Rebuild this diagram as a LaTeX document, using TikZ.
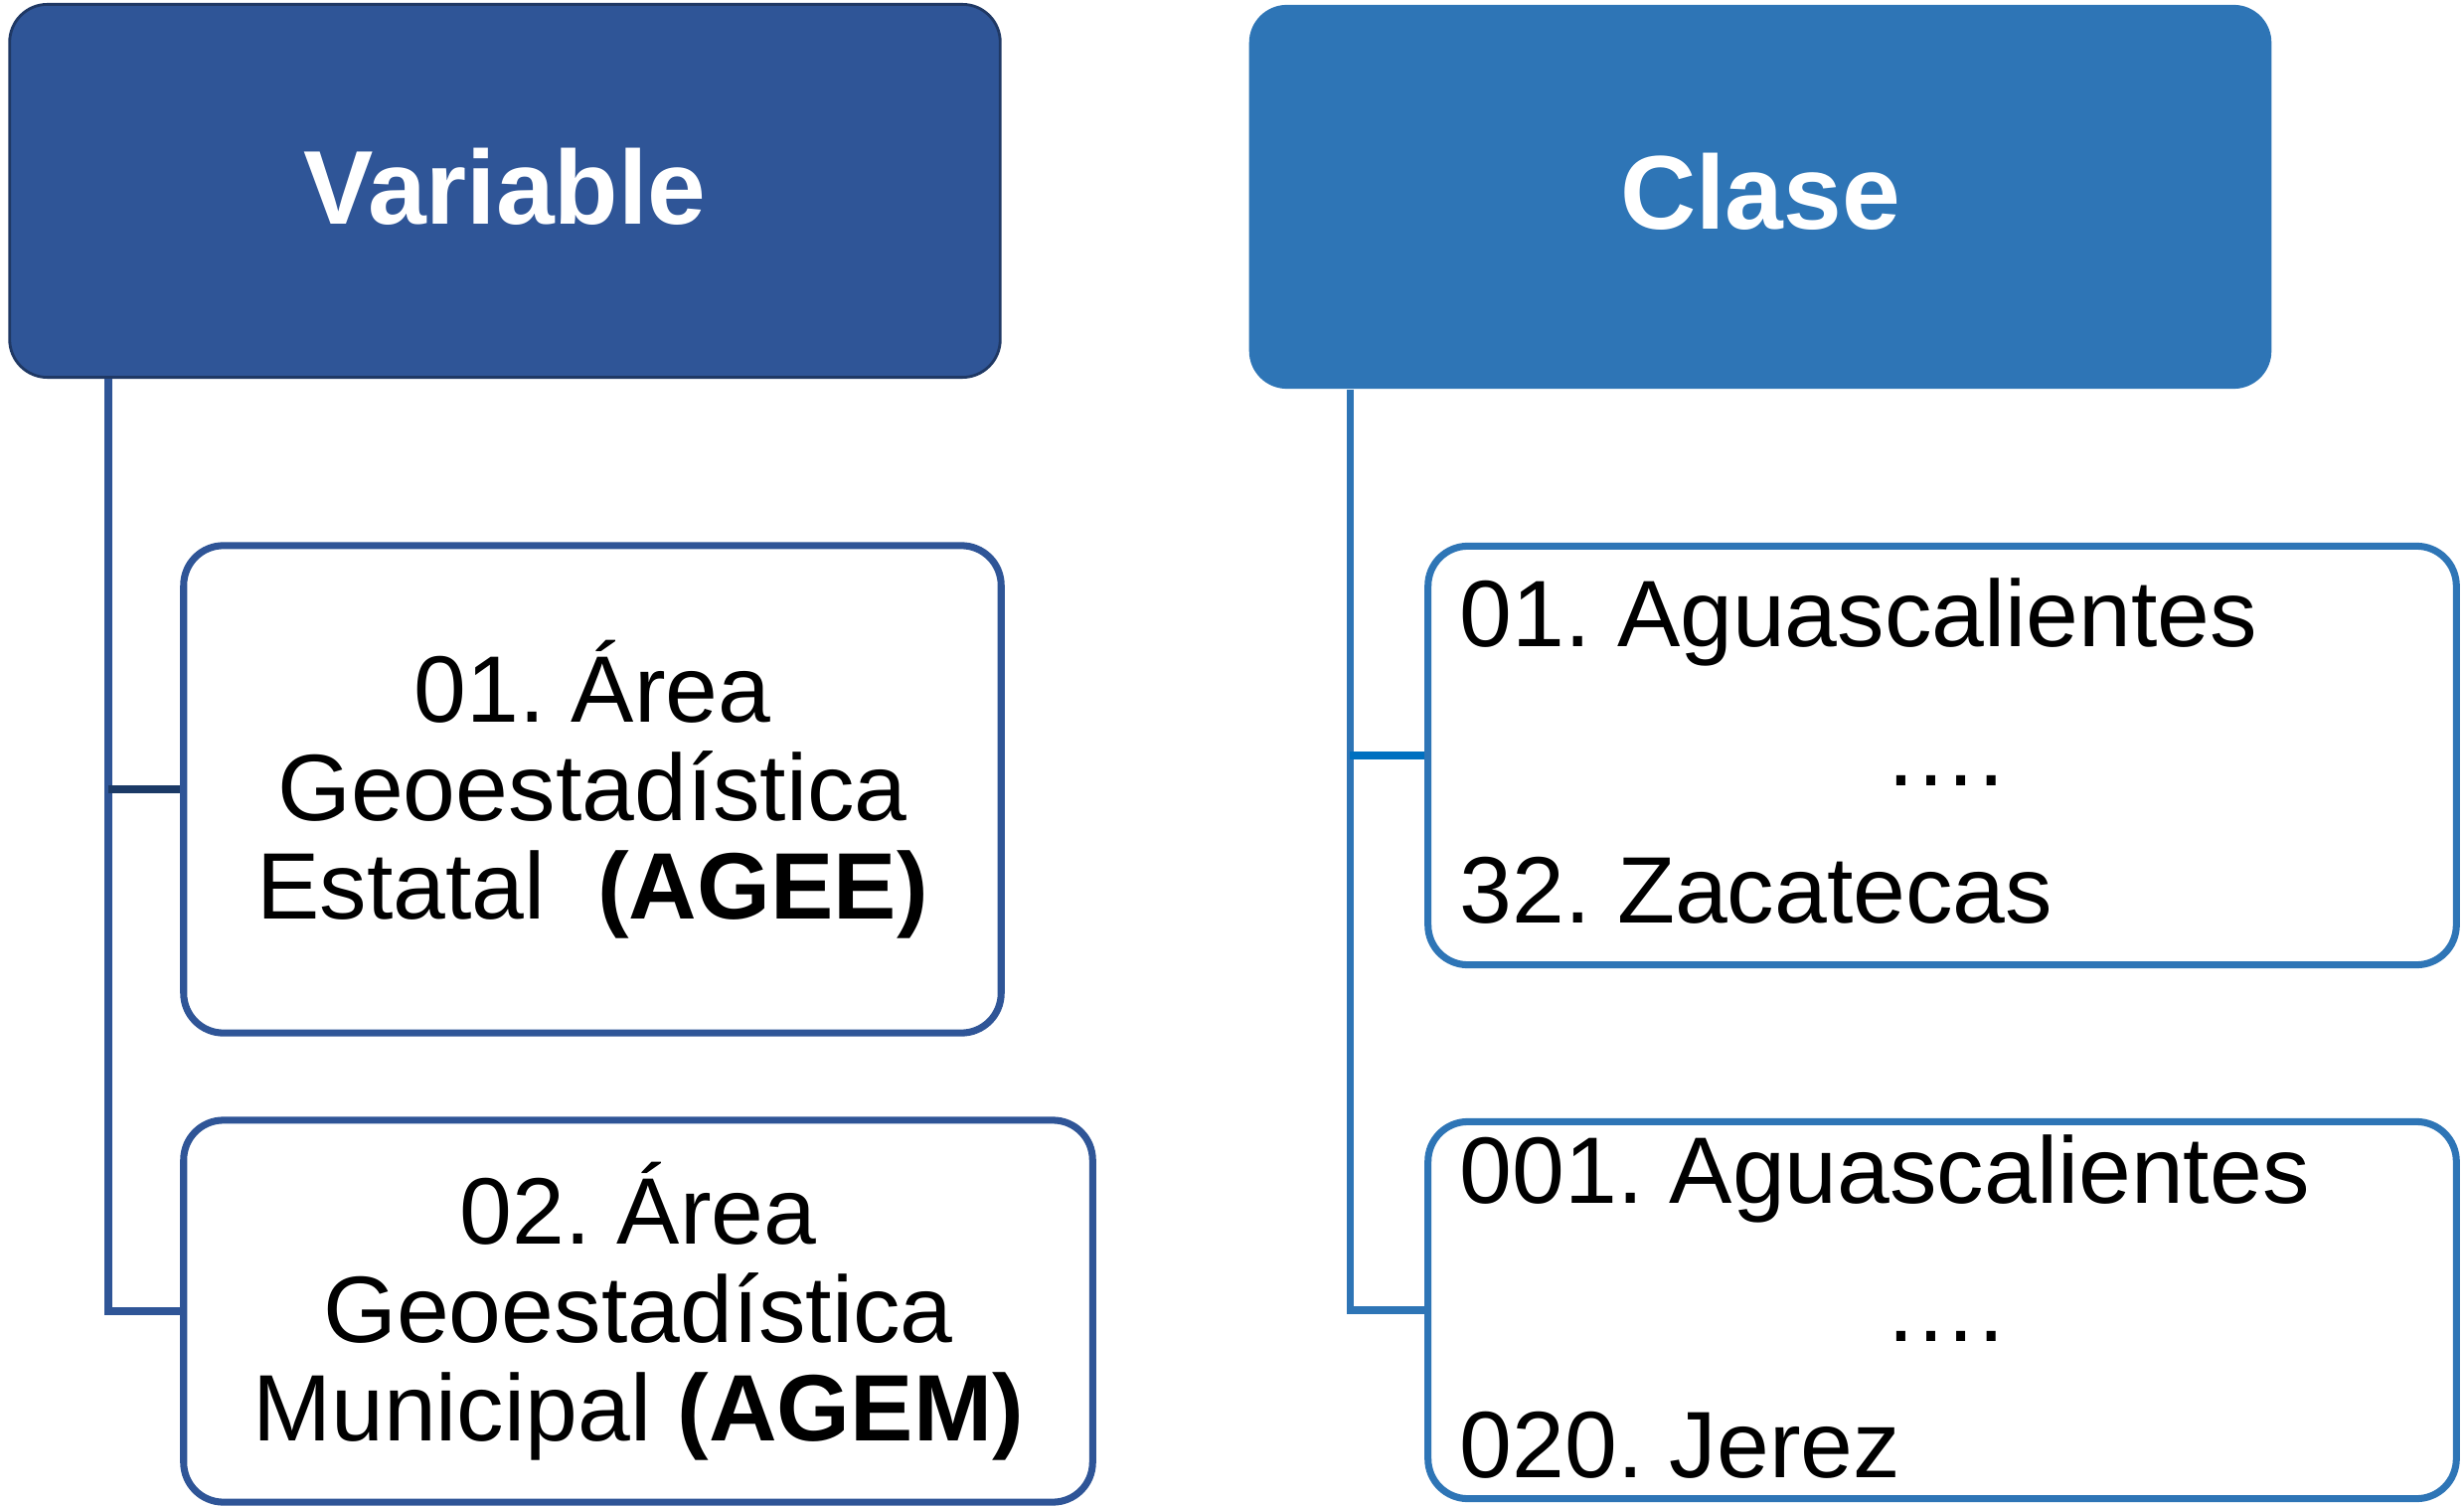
\documentclass[tikz,border=0pt]{standalone}
\usepackage{fontspec}
\setmainfont{Liberation Sans}
\frenchspacing
\definecolor{darkblue}{HTML}{2F5597}
\definecolor{midblue}{HTML}{2E75B6}
\definecolor{navyline}{HTML}{1B3A66}
\definecolor{brightblue}{HTML}{0070C0}
\definecolor{headborder}{HTML}{1F3864}
\begin{document}
\begin{tikzpicture}[x=0.01cm,y=-0.01cm,
  headbox/.style={rectangle,rounded corners=0.38cm,inner sep=0pt},
  headtext/.style={anchor=base,text=white,font=\fontsize{30}{34}\selectfont\bfseries},
  itembox/.style={rectangle,rounded corners=0.4cm,draw,line width=2pt,fill=white,inner sep=0pt},
  bigtext/.style={align=center,font=\fontsize{27}{28.2}\selectfont\frenchspacing},
  listtext/.style={inner sep=0pt,font=\fontsize{27}{30}\selectfont\frenchspacing},
  conn/.style={line width=2pt}
]
\useasboundingbox (0,0) rectangle (2479,1516);

% headers
\node[headbox,fill=darkblue,draw=headborder,line width=0.8pt,
  minimum width=9.96cm,minimum height=3.75cm] (var) at (508,192) {};
\node[headtext] (vartxt) at (508,226) {Variable};

\node[headbox,fill=midblue,minimum width=10.28cm,minimum height=3.86cm] (cls) at (1771,198) {};
\node[headtext] (clstxt) at (1771,231) {Clase};

% left items
\node[itembox,draw=darkblue,minimum width=8.22cm,minimum height=4.9cm,bigtext] (b1) at (596,794)
  {01. Área\\Geoestadística\\Estatal\ \ \textbf{(AGEE)}};
\node[itembox,draw=darkblue,minimum width=9.14cm,minimum height=3.84cm,bigtext] (b2) at (642,1319)
  {02. Área\\Geoestadística\\Municipal \textbf{(AGEM)}};

% right items
\node[itembox,draw=midblue,minimum width=10.34cm,minimum height=4.21cm] (b3) at (1954,760) {};
\node[itembox,draw=midblue,minimum width=10.34cm,minimum height=3.79cm] (b4) at (1954,1318) {};

\node[listtext,anchor=base west] (t31) at (1468,651) {01. Aguascalientes};
\node[listtext,anchor=base] (t32) at (1956,790) {….};
\node[listtext,anchor=base west] (t33) at (1468,928) {32. Zacatecas};

\node[listtext,anchor=base west] (t41) at (1468,1210) {001. Aguascalientes};
\node[listtext,anchor=base] (t42) at (1956,1349) {….};
\node[listtext,anchor=base west] (t43) at (1468,1486) {020. Jerez};

% connectors
\coordinate (lx) at (109,0);
\coordinate (rx) at (1358,0);
\draw[conn,darkblue] (var.south -| lx) |- (b2.west);
\draw[conn,navyline] (b1.west -| lx) -- (b1.west);
\draw[conn,midblue] (cls.south -| rx) |- (b4.west);
\draw[conn,brightblue] (b3.west -| rx) -- (b3.west);
\end{tikzpicture}
\end{document}
